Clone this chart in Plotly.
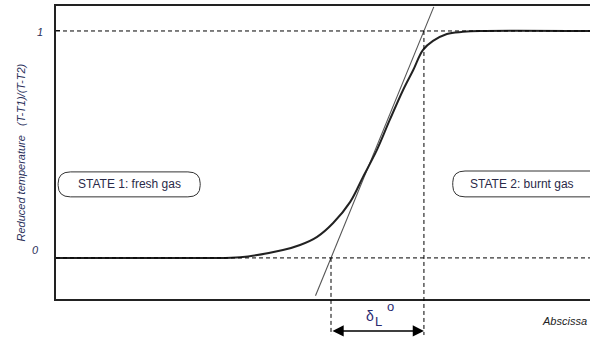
import plotly.graph_objects as go

# Reduced temperature profile across a premixed flame front
x_profile = [0.0, 27.0, 34.5, 42.5, 45.7, 48.9, 51.9, 55.1, 57.5, 60.1,
             62.5, 65.0, 66.9, 68.7, 70.6, 73.2, 76.2, 79.4, 100.0]
theta_profile = [0.0, 0.0, 0.003, 0.035, 0.057, 0.093, 0.154, 0.247, 0.357, 0.476,
                 0.608, 0.740, 0.828, 0.916, 0.956, 0.987, 0.996, 1.0, 1.0]

# Tangent at the inflection point: crossings of theta = 0 and theta = 1
x_cold = 51.5
x_hot = 68.9
tangent_theta = [-0.167, 1.106]

# Reference levels and their labels
level_vals = [0, 1]
level_text = ["0", "1"]

state_labels = ["STATE 1: fresh gas", "STATE 2: burnt gas"]

X_RANGE = [0, 100]
Y_RANGE = [-0.181, 1.110]
FONT = "Liberation Sans, Arial, sans-serif"
INK = "#222222"
TXT = "#2a2a48"


def to_paper(v):
    return (v - Y_RANGE[0]) / (Y_RANGE[1] - Y_RANGE[0])


def rounded_box(x0, x1, y0, y1, rx, ry):
    return (f"M {x0 + rx},{y1} L {x1 - rx},{y1} Q {x1},{y1} {x1},{y1 - ry} "
            f"L {x1},{y0 + ry} Q {x1},{y0} {x1 - rx},{y0} "
            f"L {x0 + rx},{y0} Q {x0},{y0} {x0},{y0 + ry} "
            f"L {x0},{y1 - ry} Q {x0},{y1} {x0 + rx},{y1} Z")


fig = go.Figure()

# tangent line
slope_dx = x_hot - x_cold
fig.add_trace(go.Scatter(
    x=[x_cold + t * slope_dx for t in tangent_theta], y=tangent_theta,
    mode="lines", line=dict(color="#555555", width=1.1), hoverinfo="skip"))

# temperature profile
fig.add_trace(go.Scatter(
    x=x_profile, y=theta_profile, mode="lines", line_shape="spline",
    line=dict(color=INK, width=2), hoverinfo="skip"))

shapes = []
# horizontal dashed levels
for v in level_vals:
    shapes.append(dict(type="line", xref="x", yref="y", x0=X_RANGE[0], x1=X_RANGE[1],
                       y0=v, y1=v, line=dict(color="black", width=1, dash="4px,3px")))
# vertical dashed guides down to the thickness arrow
y_bottom = -0.123
shapes.append(dict(type="line", xref="x", yref="paper", x0=x_cold, x1=x_cold,
                   y0=to_paper(0), y1=y_bottom,
                   line=dict(color="black", width=1, dash="4px,3px")))
shapes.append(dict(type="line", xref="x", yref="paper", x0=x_hot, x1=x_hot,
                   y0=to_paper(1), y1=y_bottom,
                   line=dict(color="black", width=1, dash="4px,3px")))
# rounded label boxes
shapes.append(dict(type="path", xref="x", yref="y",
                   path=rounded_box(0.4, 27.0, 0.269, 0.379, 2.3, 0.05),
                   line=dict(color="#333333", width=1)))
shapes.append(dict(type="path", xref="x", yref="y",
                   path=rounded_box(74.3, 103.0, 0.269, 0.383, 2.3, 0.05),
                   line=dict(color="#333333", width=1)))

annotations = []
# state labels
annotations.append(dict(x=13.7, y=0.324, xref="x", yref="y", text=state_labels[0],
                        xanchor="center", yanchor="middle", showarrow=False,
                        font=dict(size=12, color=TXT, family=FONT)))
annotations.append(dict(x=77.2, y=0.324, xref="x", yref="y", text=state_labels[1],
                        xanchor="left", yanchor="middle", showarrow=False,
                        font=dict(size=12, color=TXT, family=FONT)))
# level labels on the left
for v, t, dx, dy in zip(level_vals, level_text, [-0.039, -0.030], [8, -1]):
    annotations.append(dict(x=dx, y=v, xref="paper", yref="y", text=f"<i>{t}</i>",
                            xanchor="center", yanchor="middle",
                            showarrow=False, yshift=dy,
                            font=dict(size=11, color="#2a2f5a", family=FONT)))
# y-axis title
annotations.append(dict(x=-0.0674, y=0.5, xref="paper", yref="paper",
                        text="<i>Reduced temperature   (T-T1)/(T-T2)</i>",
                        textangle=-90, xanchor="center", yanchor="middle",
                        showarrow=False,
                        font=dict(size=11, color="#2a2f5a", family=FONT)))
# thickness arrow
annotations.append(dict(x=x_hot, y=-0.109, xref="x", yref="paper",
                        ax=x_cold, axref="x", ay=0, ayref="pixel",
                        showarrow=True, arrowside="end+start", arrowhead=2,
                        arrowsize=1.4, arrowwidth=1.6, arrowcolor="black",
                        standoff=0, startstandoff=0, text=""))
# flame thickness symbol: delta, subscript L, superscript o
x_mid = (x_cold + x_hot) / 2
for txt, dxp, yp, sz in [("δ", -7, -0.058, 14), ("L", 1, -0.076, 13), ("o", 13, -0.026, 13)]:
    annotations.append(dict(x=x_mid, y=yp, xref="x", yref="paper", xshift=dxp,
                            text=txt, xanchor="center", yanchor="middle",
                            showarrow=False,
                            font=dict(size=sz, color="#2a2a70", family=FONT)))
# abscissa label
annotations.append(dict(x=0.906, y=-0.075, xref="paper", yref="paper",
                        text="<i>Abscissa</i>", xanchor="left", yanchor="middle",
                        showarrow=False,
                        font=dict(size=11, color="#222222", family=FONT)))

fig.update_layout(
    width=590, height=339,
    margin=dict(l=56, r=0, t=6, b=40),
    paper_bgcolor="white", plot_bgcolor="white",
    showlegend=False,
    shapes=shapes, annotations=annotations,
    xaxis=dict(range=X_RANGE, showgrid=False, zeroline=False, showticklabels=False,
               showline=True, linecolor=INK, linewidth=1.5, mirror=True, ticks=""),
    yaxis=dict(range=Y_RANGE, showgrid=False, zeroline=False, showticklabels=False,
               showline=True, linecolor=INK, linewidth=1.5,
               tickvals=level_vals, ticks="inside", ticklen=4, tickcolor=INK),
)

fig.write_html("out.html")
